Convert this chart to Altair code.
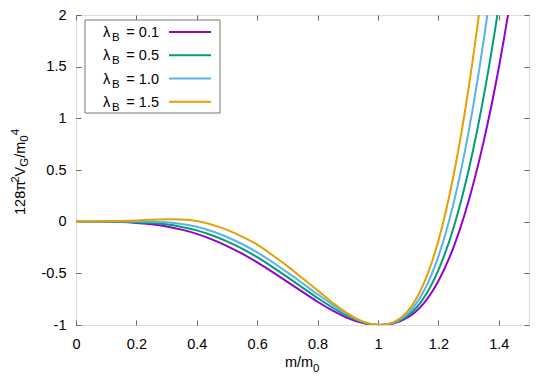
import altair as alt
import pandas as pd

# ---- data ----
m_vals = [0, 0.05, 0.1, 0.15, 0.2, 0.25, 0.3, 0.35, 0.4, 0.45, 0.5, 0.55, 0.6, 0.65, 0.7,
          0.75, 0.8, 0.85, 0.9, 0.95, 1.0, 1.05, 1.1, 1.15, 1.2, 1.25, 1.3, 1.35, 1.4, 1.45]
lambda_labels = ["0.1", "0.5", "1.0", "1.5"]
v_lam01 = [0, 0, -0.0005, -0.004, -0.012, -0.026, -0.046, -0.077, -0.118, -0.172, -0.236, -0.31,
           -0.394, -0.486, -0.583, -0.68, -0.775, -0.861, -0.933, -0.982, -1.0,
           -0.986, -0.925, -0.795, -0.575, -0.248, 0.2, 0.777, 1.489, 2.34]
v_lam05 = [0, 0, 0, -0.002, -0.007, -0.014, -0.026, -0.051, -0.084, -0.131, -0.19, -0.261,
           -0.344, -0.437, -0.537, -0.638, -0.739, -0.833, -0.915, -0.975, -1.0,
           -0.982, -0.908, -0.745, -0.469, -0.061, 0.497, 1.212, 2.091, 3.134]
v_lam10 = [0, 0, 0.001, 0.002, 0.002, 0.0, -0.006, -0.022, -0.05, -0.093, -0.148, -0.216,
           -0.297, -0.39, -0.491, -0.596, -0.703, -0.805, -0.9, -0.97, -1.0,
           -0.979, -0.885, -0.681, -0.336, 0.175, 0.869, 1.757, 2.84, 4.11]
v_lam15 = [0, 0.0005, 0.0035, 0.007, 0.012, 0.019, 0.023, 0.02, 0.006, -0.029, -0.08, -0.144,
           -0.222, -0.322, -0.43, -0.548, -0.665, -0.785, -0.89, -0.968, -1.0,
           -0.974, -0.86, -0.609, -0.184, 0.444, 1.292, 2.369, 3.67, 5.2]
x_ticks = [0, 0.2, 0.4, 0.6, 0.8, 1.0, 1.2, 1.4]
y_ticks = [-1, -0.5, 0, 0.5, 1, 1.5, 2]

colors = ["#9400D3", "#009E73", "#56B4E9", "#E69F00"]
FONT = "Liberation Sans"
FS = 14.5
FS_SUB = 11.5

series = [v_lam01, v_lam05, v_lam10, v_lam15]
rows = []
for lab, vals in zip(lambda_labels, series):
    for m, v in zip(m_vals, vals):
        rows.append({"m": m, "v": v, "lam": lab})
df = pd.DataFrame(rows)

xscale = alt.Scale(domain=[0, 1.5], nice=False, zero=False)
yscale = alt.Scale(domain=[-1, 2], nice=False, zero=False)
label_expr = "replace(format(datum.value, '~g'), '\u2212', '-')"


def axis(orient, values, labels=True, pad=10):
    kw = dict(orient=orient, values=values, offset=-5, tickSize=5, domain=False, grid=False,
              tickColor="#666", tickWidth=1, title=None, labels=labels)
    if labels:
        kw.update(labelFlush=False, labelFont=FONT, labelFontSize=FS, labelColor="black",
                  labelPadding=pad, labelExpr=label_expr)
    return alt.Axis(**kw)


lines = alt.Chart(df).mark_line(clip=True, strokeWidth=2, interpolate="natural").encode(
    x=alt.X("m:Q", scale=xscale, axis=axis("bottom", x_ticks, pad=12)),
    y=alt.Y("v:Q", scale=yscale, axis=axis("left", y_ticks, pad=10)),
    color=alt.Color("lam:N", scale=alt.Scale(domain=lambda_labels, range=colors), legend=None),
)

mirror = alt.Chart(df).mark_line(opacity=0).encode(
    x=alt.X("m:Q", scale=xscale, axis=axis("top", x_ticks, labels=False)),
    y=alt.Y("v:Q", scale=yscale, axis=axis("right", y_ticks, labels=False)),
)

one = pd.DataFrame({"k": [0]})
OX, OY = 76, 15


def txt(s, x, y, size=FS, angle=0, align="left"):
    return alt.Chart(one).mark_text(text=s, font=FONT, fontSize=size, angle=angle, align=align,
                                    baseline="alphabetic", color="black").encode(
        x=alt.value(x - OX), y=alt.value(y - OY))


deco = []
# legend box
deco.append(alt.Chart(one).mark_rect(fill="white", stroke="#777", strokeWidth=1).encode(
    x=alt.value(85 - OX), x2=alt.value(220 - OX), y=alt.value(20 - OY), y2=alt.value(113 - OY)))
for i, lab in enumerate(lambda_labels):
    yc = 32 + i * 23.25
    deco.append(txt("λ", 103, yc + 5))
    deco.append(txt("B", 112, yc + 9, size=FS_SUB))
    deco.append(txt("= " + lab, 159, yc + 5, align="right"))
    deco.append(alt.Chart(one).mark_rule(color=colors[i], strokeWidth=2).encode(
        x=alt.value(169 - OX), x2=alt.value(211 - OX), y=alt.value(yc - OY)))

# x title  m/m_0
deco.append(txt("m/m", 285, 367))
deco.append(txt("0", 313, 372, size=FS_SUB))

# y title 128π²V_G/m_0^4 (rotated)
ypieces = [("128π", 25, 215, FS), ("2", 19, 182.8, FS_SUB), ("V", 25, 176.4, FS),
           ("G", 28, 166.7, FS_SUB), ("/m", 25, 157.8, FS), ("0", 28, 141.7, FS_SUB),
           ("4", 19, 135.3, FS_SUB)]
for s, x, y, size in ypieces:
    deco.append(txt(s, x, y, size=size, angle=270))

chart = alt.layer(lines, mirror, *deco).resolve_axis(x="independent", y="independent").properties(
    width=453, height=310,
    autosize=alt.AutoSizeParams(type="none"),
    padding={"left": 68, "top": 7, "right": 21, "bottom": 57},
).configure_view(stroke="black", strokeWidth=1).configure(background="white")

chart.save("out.html", embed_options={"renderer": "svg", "actions": False})
